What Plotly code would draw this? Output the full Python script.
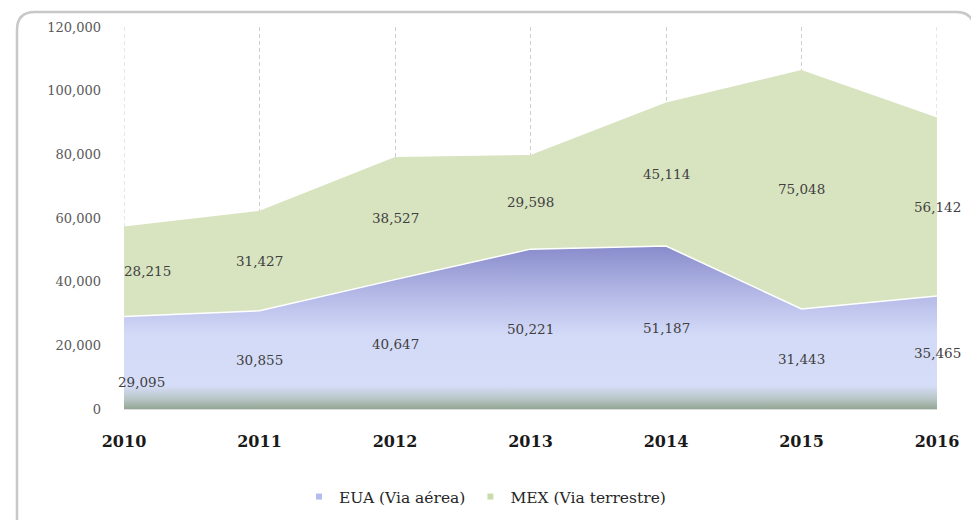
import plotly.graph_objects as go

years = [2010, 2011, 2012, 2013, 2014, 2015, 2016]
eua = [29095, 30855, 40647, 50221, 51187, 31443, 35465]
mex = [28215, 31427, 38527, 29598, 45114, 75048, 56142]
y_ticks = [0, 20000, 40000, 60000, 80000, 100000, 120000]
y_tick_text = ["0", "20,000", "40,000", "60,000", "80,000", "100,000", "120,000"]
name_eua = "EUA (Via aérea)"
name_mex = "MEX (Via terrestre)"

W, H = 979, 520
OFF = 8  # page body margin
L, R, T, B = 116, 50, 19, 119
pw = W - L - R
ph = H - T - B

FONT = "DejaVu Serif"
GRID = dict(color="#cfcfcf", width=1, dash="4px,3px")

fig = go.Figure()
fig.add_trace(go.Scatter(
    x=years, y=eua, name=name_eua, stackgroup="one", mode="lines",
    line=dict(color="white", width=1.5),
    fillgradient=dict(
        type="vertical", start=0, stop=52000,
        colorscale=[[0, "#93a693"], [0.06, "#b8c6c6"], [0.14, "#d6ddf8"],
                    [0.45, "#d3daf7"], [0.7, "#b3b8e6"], [1, "#8689c9"]],
    ),
    hoverinfo="skip", showlegend=False,
))
fig.add_trace(go.Scatter(
    x=years, y=mex, name=name_mex, stackgroup="one", mode="lines",
    line=dict(color="rgba(0,0,0,0)", width=0),
    fillcolor="#d8e4c0",
    hoverinfo="skip", showlegend=False,
))
# legend entries with small square markers
fig.add_trace(go.Scatter(x=[None], y=[None], name=name_eua, mode="markers",
                         marker=dict(symbol="square", size=6, color="#b4bbee")))
fig.add_trace(go.Scatter(x=[None], y=[None], name=name_mex, mode="markers",
                         marker=dict(symbol="square", size=6, color="#c9dcae")))

# edge gridlines (plotly hides grid at the range edges)
for xv in (years[0], years[-1]):
    fig.add_vline(x=xv, line=GRID, layer="below")

# data labels at the middle of each band
for i, yr in enumerate(years):
    y1 = eua[i] / 2
    y2 = eua[i] + mex[i] / 2
    sh1 = -19 if i == 0 else 0
    xs1 = 17 if i == 0 else 0
    xs2 = 23 if i == 0 else 0
    fig.add_annotation(x=yr, y=y1, text=f"{eua[i]:,}", showarrow=False,
                       yshift=sh1, xshift=xs1,
                       font=dict(family=FONT, size=13.5, color="#404040"))
    fig.add_annotation(x=yr, y=y2, text=f"{mex[i]:,}", showarrow=False,
                       xshift=xs2,
                       font=dict(family=FONT, size=13.5, color="#404040"))

# rounded border (screen px -> paper)
def sx(px):
    return (px - OFF - L) / pw

def sy(py):
    return (H - B - (py - OFF)) / ph

x0, x1, y0, y1, r = 17, 974, 12, 540, 18
path = (
    f"M {sx(x0)},{sy(y1)} "
    f"L {sx(x0)},{sy(y0 + r)} "
    f"Q {sx(x0)},{sy(y0)} {sx(x0 + r)},{sy(y0)} "
    f"L {sx(x1 - r)},{sy(y0)} "
    f"Q {sx(x1)},{sy(y0)} {sx(x1)},{sy(y0 + r)} "
    f"L {sx(x1)},{sy(y1)}"
)
fig.add_shape(type="path", path=path, xref="paper", yref="paper",
              line=dict(color="#c8c8c8", width=2.5), layer="below")

fig.update_layout(
    width=W, height=H,
    margin=dict(l=L, r=R, t=T, b=B),
    paper_bgcolor="white", plot_bgcolor="white",
    font=dict(family=FONT, color="#404040"),
    showlegend=True,
    legend=dict(orientation="h", x=sx(485), xanchor="center",
                y=sy(497), yanchor="middle",
                font=dict(family=FONT, size=15.5, color="#262626"),
                itemwidth=30, traceorder="normal", tracegroupgap=0),
)
fig.update_xaxes(
    range=[2010, 2016], tickmode="array", tickvals=years,
    ticktext=[f"<b>{y}</b>" for y in years],
    tickfont=dict(family=FONT, size=16, color="#1a1a1a"),
    showgrid=True, gridcolor=GRID["color"], griddash=GRID["dash"], gridwidth=1,
    showline=True, linecolor="#dedede", linewidth=1,
    ticks="", ticklabelstandoff=18, zeroline=False,
)
fig.update_yaxes(
    range=[0, 120000], tickmode="array", tickvals=y_ticks, ticktext=y_tick_text,
    tickfont=dict(family=FONT, size=13, color="#595959"),
    showgrid=False, zeroline=False, showline=False, ticks="",
    ticklabelstandoff=22,
)

fig.write_html("out.html")
